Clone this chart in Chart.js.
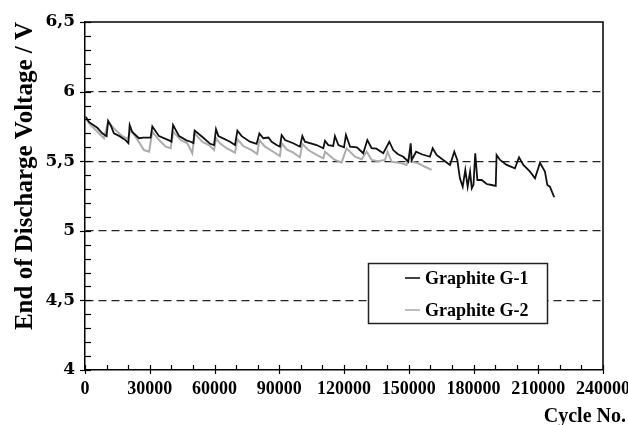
<!DOCTYPE html>
<html>
<head>
<meta charset="utf-8">
<script src="https://cdn.jsdelivr.net/npm/chart.js@4.4.1/dist/chart.umd.min.js"></script>
<style>
  html, body { margin: 0; padding: 0; background: #fff; }
  #wrap { width: 628px; height: 425px; position: relative; }
</style>
</head>
<body>
<div id="wrap"><canvas id="c" width="628" height="425"></canvas></div>
<script>
// ---- data ----
const seriesNames = ["Graphite G-1", "Graphite G-2"];
const g1Cycles = [300,1900,5700,8000,10000,10700,12000,13400,16000,18900,20100,20700,21900,25000,27000,30400,31200,34300,38900,40000,40800,43600,47000,49000,50200,50800,55100,58000,59800,60700,61800,67200,69500,70600,72600,76400,79500,80800,82600,85000,86500,88800,90300,91100,92700,96500,99600,100700,101900,107300,110400,111200,112700,115000,115800,117400,120000,120900,122800,126000,128900,130800,132800,135000,138200,141000,142800,145000,147500,149800,150900,151400,153400,156000,159800,161100,162900,166000,169100,171100,172500,173700,175000,176200,177300,178400,179200,180000,180800,181800,183800,186100,188400,190300,190700,192300,195400,199200,201100,203100,206200,208500,210800,213100,214200,215400,217400];
const g1Voltage = [5.82,5.78,5.74,5.70,5.68,5.79,5.755,5.70,5.68,5.65,5.63,5.76,5.71,5.665,5.67,5.67,5.75,5.68,5.65,5.64,5.76,5.68,5.65,5.64,5.63,5.72,5.665,5.625,5.616,5.73,5.68,5.64,5.616,5.72,5.68,5.64,5.624,5.70,5.665,5.67,5.64,5.616,5.604,5.688,5.652,5.629,5.604,5.68,5.64,5.616,5.593,5.647,5.616,5.61,5.681,5.616,5.60,5.688,5.604,5.60,5.557,5.652,5.593,5.59,5.557,5.640,5.58,5.55,5.532,5.496,5.629,5.509,5.568,5.55,5.532,5.593,5.545,5.509,5.473,5.568,5.509,5.377,5.317,5.437,5.317,5.425,5.305,5.33,5.557,5.365,5.365,5.336,5.329,5.322,5.545,5.509,5.473,5.449,5.528,5.473,5.425,5.377,5.489,5.425,5.329,5.317,5.241];
const g2Cycles = [300,2600,5700,8800,10700,12600,15000,17300,19800,21200,24400,27300,29700,31200,34300,37400,39700,40900,44300,47400,49700,50800,54300,57400,59800,60700,62500,65600,69500,70600,73300,77200,79800,80800,83400,86500,90300,91100,93400,96500,99600,100700,103500,107300,110400,111200,113500,115800,118900,121200,125100,128200,130500,132800,135700,139000,140200,142100,146700,149000,150600,151400,154400,157500,160600];
const g2Voltage = [5.808,5.76,5.712,5.665,5.784,5.748,5.712,5.68,5.66,5.724,5.652,5.58,5.568,5.712,5.652,5.604,5.593,5.712,5.652,5.629,5.557,5.700,5.640,5.616,5.580,5.665,5.629,5.593,5.561,5.657,5.609,5.580,5.552,5.652,5.604,5.575,5.537,5.629,5.585,5.561,5.528,5.624,5.580,5.545,5.521,5.568,5.537,5.509,5.491,5.593,5.532,5.514,5.568,5.509,5.50,5.509,5.568,5.496,5.485,5.473,5.557,5.496,5.485,5.460,5.437];
const xMajorTicks = [0,30000,60000,90000,120000,150000,180000,210000,240000];
const yMajorTicks = [4,4.5,5,5.5,6,6.5];
const xTitle = "Cycle No.";
const yTitle = "End of Discharge Voltage / V";

const seriesColors = ["#111111", "#acacac"];

function toPoints(xs, ys) { return xs.map((x, i) => ({ x: x, y: ys[i] })); }
function isMajor(list, v) { return list.some(m => Math.abs(m - v) < 1e-6); }

const tickPlugin = {
  id: 'ticksAndFrame',
  afterDraw(chart) {
    const ctx = chart.ctx;
    const a = chart.chartArea;
    const xs = chart.scales.x, ys = chart.scales.y;
    ctx.save();
    ctx.strokeStyle = '#000';
    ctx.lineWidth = 1.5;
    // frame top/right
    ctx.beginPath();
    ctx.moveTo(a.left, a.top); ctx.lineTo(a.right, a.top); ctx.lineTo(a.right, a.bottom);
    ctx.stroke();
    ctx.lineWidth = 1.2;
    // x ticks
    xs.ticks.forEach(t => {
      const px = Math.round(xs.getPixelForValue(t.value)) + 0.5;
      const major = isMajor(xMajorTicks, t.value);
      ctx.beginPath();
      ctx.moveTo(px, a.bottom - 5);
      ctx.lineTo(px, a.bottom + (major ? 4 : 0));
      ctx.stroke();
    });
    // y ticks
    ys.ticks.forEach(t => {
      const py = Math.round(ys.getPixelForValue(t.value)) + 0.5;
      const major = isMajor(yMajorTicks, t.value);
      ctx.beginPath();
      ctx.moveTo(a.left - (major ? 5 : 0), py);
      ctx.lineTo(a.left + 6, py);
      ctx.stroke();
    });
    // x title
    ctx.fillStyle = '#000';
    ctx.font = 'bold 20px "Liberation Serif", "Times New Roman", serif';
    ctx.textAlign = 'right';
    ctx.textBaseline = 'alphabetic';
    ctx.fillText(xTitle, chart.width - 2, a.bottom + 52);
    // legend
    const lx = a.left + 283, ly = a.top + 241, lw = 179, lh = 60;
    ctx.fillStyle = '#fff';
    ctx.fillRect(lx, ly, lw, lh);
    ctx.lineWidth = 1.5;
    ctx.strokeStyle = '#222';
    ctx.strokeRect(lx + 0.5, ly + 0.5, lw, lh);
    ctx.font = 'bold 18px "Liberation Serif", "Times New Roman", serif';
    ctx.textAlign = 'left';
    ctx.textBaseline = 'middle';
    chart.data.datasets.forEach((ds, i) => {
      const yy = ly + 15 + i * 32;
      ctx.strokeStyle = ds.borderColor;
      ctx.lineWidth = 1.6;
      ctx.beginPath();
      ctx.moveTo(lx + 37, yy); ctx.lineTo(lx + 52, yy);
      ctx.stroke();
      ctx.fillStyle = '#000';
      ctx.fillText(ds.label, lx + 57, yy + 1);
    });
    ctx.restore();
  }
};

new Chart(document.getElementById('c'), {
  type: 'line',
  data: {
    datasets: [
      { label: seriesNames[0], data: toPoints(g1Cycles, g1Voltage), borderColor: seriesColors[0], borderWidth: 1.8, pointRadius: 0, tension: 0, fill: false },
      { label: seriesNames[1], data: toPoints(g2Cycles, g2Voltage), borderColor: seriesColors[1], borderWidth: 2, pointRadius: 0, tension: 0, fill: false }
    ]
  },
  options: {
    responsive: false,
    animation: false,
    layout: { padding: { top: 22, left: 0, right: 0, bottom: 0 } },
    plugins: { legend: { display: false }, tooltip: { enabled: false } },
    scales: {
      x: {
        type: 'linear', min: 0, max: 240000,
        ticks: {
          stepSize: 10000, autoSkip: false, maxRotation: 0, padding: 9, color: '#000',
          font: { family: '"Liberation Serif", "Times New Roman", serif', size: 18, weight: 'bold' },
          callback: (v) => isMajor(xMajorTicks, v) ? String(Math.round(v)) : ''
        },
        grid: { display: false, drawTicks: false },
        border: { display: true, color: '#000', width: 1.5 },
        afterFit: (s) => { s.height = 55; s.paddingRight = 25; s.paddingLeft = 0; }
      },
      y: {
        type: 'linear', min: 4, max: 6.5,
        ticks: {
          stepSize: 0.1, autoSkip: false, padding: 10, color: '#000',
          font: { family: '"DejaVu Serif", serif', size: 17, weight: 'bold' },
          callback: (v) => isMajor(yMajorTicks, v) ? String(Math.round(v * 10) / 10).replace('.', ',') : ''
        },
        grid: {
          drawTicks: false, lineWidth: 1.3,
          color: (c) => (c.tick && isMajor(yMajorTicks, c.tick.value) && c.tick.value > 4.01 && c.tick.value < 6.49) ? '#222' : 'rgba(0,0,0,0)'
        },
        border: { display: true, color: '#000', width: 1.5, dash: [8, 5] },
        title: {
          display: true, text: yTitle, align: 'end', color: '#000', padding: { top: 11, bottom: 0 },
          font: { family: '"Liberation Serif", "Times New Roman", serif', size: 25, weight: 'bold' }
        },
        afterFit: (s) => { s.width = 85; s.paddingTop = 0; s.paddingBottom = 0; }
      }
    }
  },
  plugins: [tickPlugin]
});
</script>
</body>
</html>
